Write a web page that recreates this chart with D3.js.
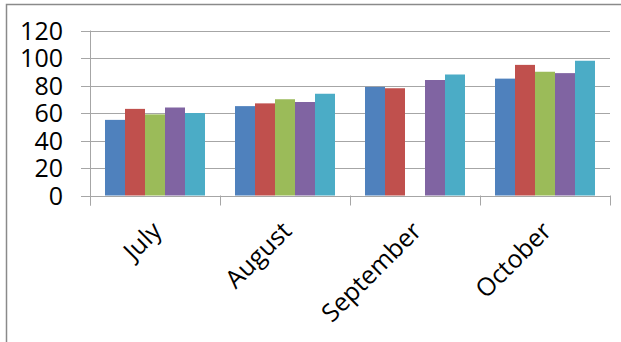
<!DOCTYPE html>
<html>
<head>
<meta charset="utf-8">
<script src="https://cdn.jsdelivr.net/npm/d3@7"></script>
<style>
  html, body { margin: 0; padding: 0; background: #fff; }
  svg { display: block; }
  text { font-family: "Open Sans", "Noto Sans", sans-serif; fill: #000; }
</style>
</head>
<body>
<svg id="chart" width="621" height="342"></svg>
<script>
// Monthly values for five series
const categories = ["July", "August", "September", "October"];
const seriesNames = ["S1", "S2", "S3", "S4", "S5"];
const series1 = [55, 65, 79, 85];
const series2 = [63, 67, 78, 95];
const series3 = [59, 70, null, 90];
const series4 = [64, 68, 84, 89];
const series5 = [60, 74, 88, 98];
const yTicks = [0, 20, 40, 60, 80, 100, 120];
const colors = ["#4F81BD", "#C0504D", "#9BBB59", "#8064A2", "#4BACC6"];

const allSeries = [series1, series2, series3, series4, series5];

const svg = d3.select("#chart");
const W = 621, H = 342;

// chart frame
svg.append("rect")
  .attr("x", 6.5).attr("y", 4.5)
  .attr("width", W + 10).attr("height", H + 10)
  .attr("fill", "#fff").attr("stroke", "#8a8a8a").attr("stroke-width", 1.5);

const plot = { left: 90, right: 610, top: 30.5, bottom: 195.5 };

const x0 = d3.scaleBand().domain(categories).range([plot.left, plot.right]).paddingInner(0).paddingOuter(0);
const x1 = d3.scaleBand().domain(seriesNames).range([0, x0.bandwidth()]).paddingOuter(0.75).paddingInner(0);
const y = d3.scaleLinear().domain([0, 120]).range([plot.bottom, plot.top]);

// gridlines
svg.append("g").selectAll("line").data(yTicks).join("line")
  .attr("x1", plot.left - 9).attr("x2", plot.right)
  .attr("y1", d => Math.round(y(d)) + 0.5).attr("y2", d => Math.round(y(d)) + 0.5)
  .attr("stroke", "#a6a6a6").attr("stroke-width", 1);

// bars
const groups = svg.append("g").selectAll("g").data(categories).join("g")
  .attr("transform", d => `translate(${x0(d)},0)`);
groups.selectAll("rect")
  .data((c, i) => allSeries.map((s, k) => ({ k, v: s[i] })).filter(d => d.v != null))
  .join("rect")
  .attr("x", d => x1(seriesNames[d.k]))
  .attr("width", x1.bandwidth())
  .attr("y", d => y(d.v))
  .attr("height", d => y(0) - y(d.v))
  .attr("fill", d => colors[d.k]);

// value axis line
svg.append("line")
  .attr("x1", plot.left + 0.5).attr("x2", plot.left + 0.5)
  .attr("y1", plot.top).attr("y2", plot.bottom + 10)
  .attr("stroke", "#a6a6a6");

// category ticks
const catEdges = categories.map(c => x0(c)).concat([plot.right]);
svg.append("g").selectAll("line").data(catEdges).join("line")
  .attr("x1", d => Math.round(d) + 0.5).attr("x2", d => Math.round(d) + 0.5)
  .attr("y1", plot.bottom).attr("y2", plot.bottom + 10)
  .attr("stroke", "#a6a6a6");

// y labels
svg.append("g").selectAll("text").data(yTicks).join("text")
  .attr("x", 63).attr("y", d => y(d) + 9)
  .attr("text-anchor", "end")
  .style("font-size", "25px")
  .text(d => d);

// x labels, rotated
svg.append("g").selectAll("text").data(categories).join("text")
  .attr("transform", d => `translate(${x0(d) + x0.bandwidth() / 2 + 8},${plot.bottom + 37}) rotate(-45)`)
  .attr("text-anchor", "end")
  .style("font-size", "25px")
  .text(d => d);
</script>
</body>
</html>
